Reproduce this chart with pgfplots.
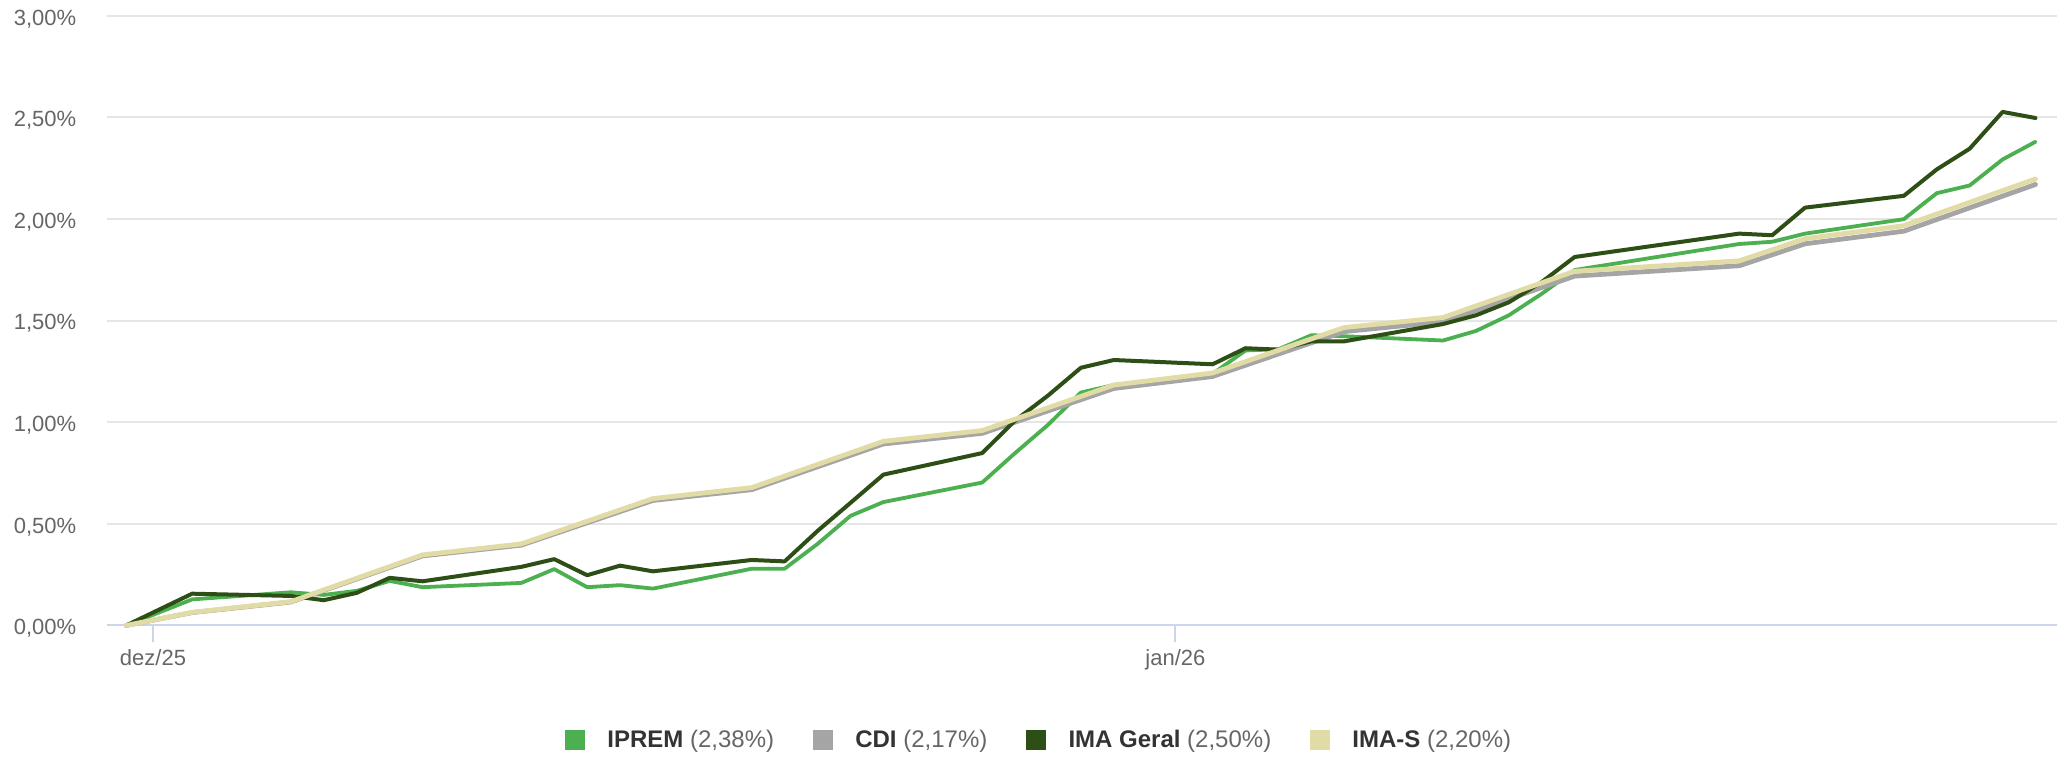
\documentclass[border=0pt]{standalone}
\usepackage{pgfplots}
\pgfplotsset{compat=1.18}
\usepackage{pgfplotstable}
\usepackage{fontspec}
\setmainfont{Liberation Sans}
\definecolor{cIPREM}{HTML}{4CAF50}
\definecolor{cCDI}{HTML}{A5A5A5}
\definecolor{cIMAG}{HTML}{2D4F16}
\definecolor{cIMAS}{HTML}{E1DBA5}
\definecolor{cAxis}{HTML}{CCD6EB}
\definecolor{cGrid}{HTML}{E6E6E6}
\definecolor{cLabel}{HTML}{666666}
\definecolor{cLegend}{HTML}{333333}

\pgfplotstableread{
k iprem imag
0 0 0
2 0.128 0.156
5 0.163 0.145
6 0.150 0.124
7 0.170 0.160
8 0.219 0.234
9 0.188 0.217
12 0.209 0.288
13 0.277 0.326
14 0.188 0.247
15 0.198 0.294
16 0.181 0.266
19 0.279 0.322
20 0.279 0.315
21 0.401 0.465
22 0.539 0.603
23 0.607 0.742
26 0.703 0.848
27 0.848 1.008
28 0.987 1.131
29 1.146 1.268
30 1.183 1.306
33 1.238 1.285
34 1.353 1.364
35 1.359 1.357
36 1.428 1.398
37 1.423 1.398
40 1.402 1.483
41 1.449 1.526
42 1.526 1.590
43 1.632 1.690
44 1.749 1.813
49 1.877 1.928
50 1.888 1.920
51 1.928 2.056
54 1.999 2.114
55 2.127 2.244
56 2.165 2.346
57 2.293 2.527
58 2.380 2.497
}\tabA

\pgfplotstableread{
k cdi imas
0 0 0
2 0.063 0.064
5 0.115 0.117
9 0.342 0.347
12 0.395 0.401
16 0.615 0.624
19 0.668 0.678
23 0.893 0.906
26 0.945 0.959
30 1.166 1.183
33 1.225 1.242
37 1.446 1.466
40 1.494 1.515
44 1.719 1.743
49 1.770 1.794
51 1.878 1.903
54 1.940 1.967
58 2.170 2.197
}\tabB

\begin{document}
\begin{tikzpicture}
\useasboundingbox (0,0) rectangle (1034.5pt,379.5pt);
\begin{axis}[
  at={(53.45pt,66.8pt)}, anchor=south west,
  width=975pt, height=304.8pt, scale only axis,
  xmin=-0.59, xmax=58.65, ymin=0, ymax=3,
  clip=false,
  axis x line*=bottom, axis y line*=left,
  x axis line style={draw=cAxis, line width=1pt, -},
  y axis line style={draw=none},
  xtick={0.81,31.87}, xticklabels={dez/25,jan/26},
  ytick={0,0.5,1,1.5,2,2.5,3},
  yticklabels={{0,00\%},{0,50\%},{1,00\%},{1,50\%},{2,00\%},{2,50\%},{3,00\%}},
  ymajorgrids, grid style={draw=cGrid, line width=1pt},
  tick align=outside, major tick length=8.5pt,
  xtick style={draw=cAxis, line width=1pt},
  ytick style={draw=none},
  ticklabel style={font=\fontsize{11}{13}\selectfont, text=cLabel},
  yticklabel style={xshift=-3.3pt, yshift=-1.5pt},
  legend style={at={(0.4786,-0.188)}, anchor=center, draw=none, fill=none,
    legend columns=-1, font=\fontsize{12}{14}\selectfont, text=cLegend,
    /tikz/every even column/.append style={column sep=17.5pt}},
  every axis plot/.append style={line join=round, line cap=round},
]
\addplot[cIPREM, line width=1.9pt,
  legend image code/.code={\fill[cIPREM, draw=none] (0pt,-5pt) rectangle (10pt,5pt); \path[draw=none, fill=none] (0pt,0pt) -- (19.1pt,0pt);}]
  table[x=k, y=iprem] {\tabA};
\addlegendentry{\textbf{IPREM} {\color{cLabel}(2,38\%)}}
\addplot[cCDI, line width=2.4pt,
  legend image code/.code={\fill[cCDI, draw=none] (0pt,-5pt) rectangle (10pt,5pt); \path[draw=none, fill=none] (0pt,0pt) -- (19.1pt,0pt);}]
  table[x=k, y=cdi] {\tabB};
\addlegendentry{\textbf{CDI} {\color{cLabel}(2,17\%)}}
\addplot[cIMAG, line width=2pt,
  legend image code/.code={\fill[cIMAG, draw=none] (0pt,-5pt) rectangle (10pt,5pt); \path[draw=none, fill=none] (0pt,0pt) -- (19.1pt,0pt);}]
  table[x=k, y=imag] {\tabA};
\addlegendentry{\textbf{IMA Geral} {\color{cLabel}(2,50\%)}}
\addplot[cIMAS, line width=2.4pt,
  legend image code/.code={\fill[cIMAS, draw=none] (0pt,-5pt) rectangle (10pt,5pt); \path[draw=none, fill=none] (0pt,0pt) -- (19.1pt,0pt);}]
  table[x=k, y=imas] {\tabB};
\addlegendentry{\textbf{IMA-S} {\color{cLabel}(2,20\%)}}
\end{axis}
\end{tikzpicture}
\end{document}
